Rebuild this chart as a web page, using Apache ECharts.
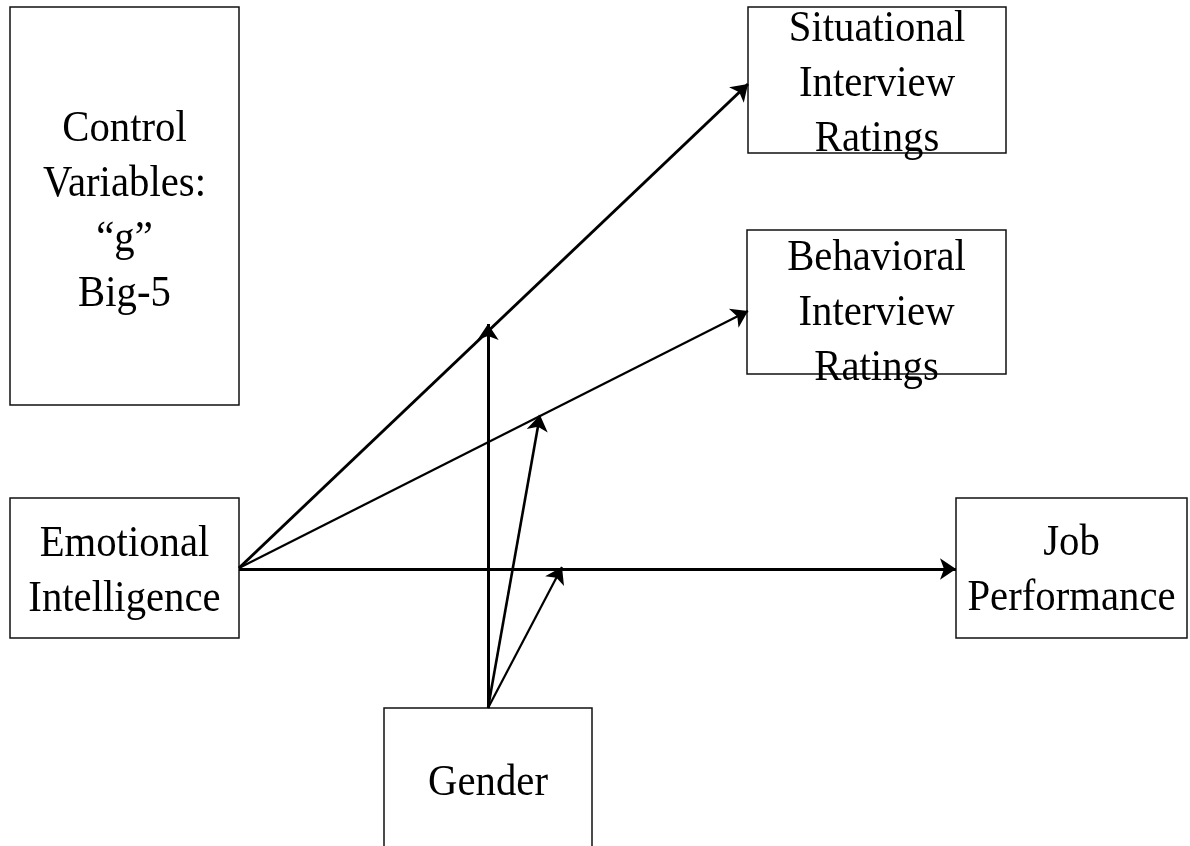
<!DOCTYPE html>
<html>
<head>
<meta charset="utf-8">
<script src="https://cdn.jsdelivr.net/npm/echarts@6/dist/echarts.min.js"></script>
<style>html,body{margin:0;padding:0;background:#fff;}#c{width:1190px;height:846px;}</style>
</head>
<body>
<div id="c"></div>
<script>
// Node labels
const nodeLabels = [
  'Control\nVariables:\n\u201cg\u201d\nBig-5',
  'Situational\nInterview\nRatings',
  'Behavioral\nInterview\nRatings',
  'Emotional\nIntelligence',
  'Job\nPerformance',
  'Gender'
];
// Node layout (diagram coordinate space 0..1190 x 0..846)
const nodeLeft   = [10, 748, 747, 10, 956, 384];
const nodeTop    = [7, 7, 230, 498, 498, 708];
const nodeRight  = [239, 1006, 1006, 239, 1187, 592];
const nodeBottom = [405, 153, 374, 638, 638, 860];
const labelCenterY = [212, 84, 313, 572, 571, 783];

// Paths (arrows) between nodes, start & end points
const edgeFrom = [[239, 568], [239, 568], [239, 569], [488, 708], [488, 708], [488, 708]];
const edgeTo   = [[748, 84], [748, 311], [956, 569], [488, 324], [540, 415], [562, 567]];
const edgeWidth = [3, 2.2, 2.8, 3, 2.6, 2.2];

const nodeData = nodeLabels.map((l, i) => [nodeLeft[i], nodeTop[i], nodeRight[i], nodeBottom[i], labelCenterY[i], i]);
const edgeData = edgeFrom.map((f, i) => ({
  coords: [f, edgeTo[i]],
  lineStyle: { width: edgeWidth[i] }
}));

const chart = echarts.init(document.getElementById('c'));
chart.setOption({
  animation: false,
  backgroundColor: '#fff',
  grid: { left: 0, right: 0, top: 0, bottom: 0 },
  xAxis: { type: 'value', min: 0, max: 1190, show: false },
  yAxis: { type: 'value', min: 0, max: 846, inverse: true, show: false },
  series: [
    {
      type: 'custom',
      coordinateSystem: 'cartesian2d',
      data: nodeData,
      z: 1,
      renderItem: function (params, api) {
        const p0 = api.coord([api.value(0), api.value(1)]);
        const p1 = api.coord([api.value(2), api.value(3)]);
        const cy = api.coord([0, api.value(4)])[1];
        const idx = api.value(5);
        return {
          type: 'group',
          children: [
            {
              type: 'rect',
              shape: { x: p0[0], y: p0[1], width: p1[0] - p0[0], height: p1[1] - p0[1] },
              style: { fill: '#fff', stroke: '#111', lineWidth: 1.5 }
            },
            {
              type: 'text',
              x: (p0[0] + p1[0]) / 2,
              y: cy,
              scaleX: 0.97,
              scaleY: 1.06,
              style: {
                text: nodeLabels[idx],
                x: 0,
                y: 0,
                align: 'center',
                verticalAlign: 'middle',
                fontFamily: '"Liberation Serif", "DejaVu Serif", serif',
                fontSize: 42,
                lineHeight: 52,
                fill: '#000'
              }
            }
          ]
        };
      }
    },
    {
      type: 'lines',
      coordinateSystem: 'cartesian2d',
      z: 2,
      symbol: ['none', 'arrow'],
      symbolSize: 16,
      lineStyle: { color: '#000', width: 2.5, opacity: 1, curveness: 0 },
      data: edgeData
    }
  ]
});
</script>
</body>
</html>
